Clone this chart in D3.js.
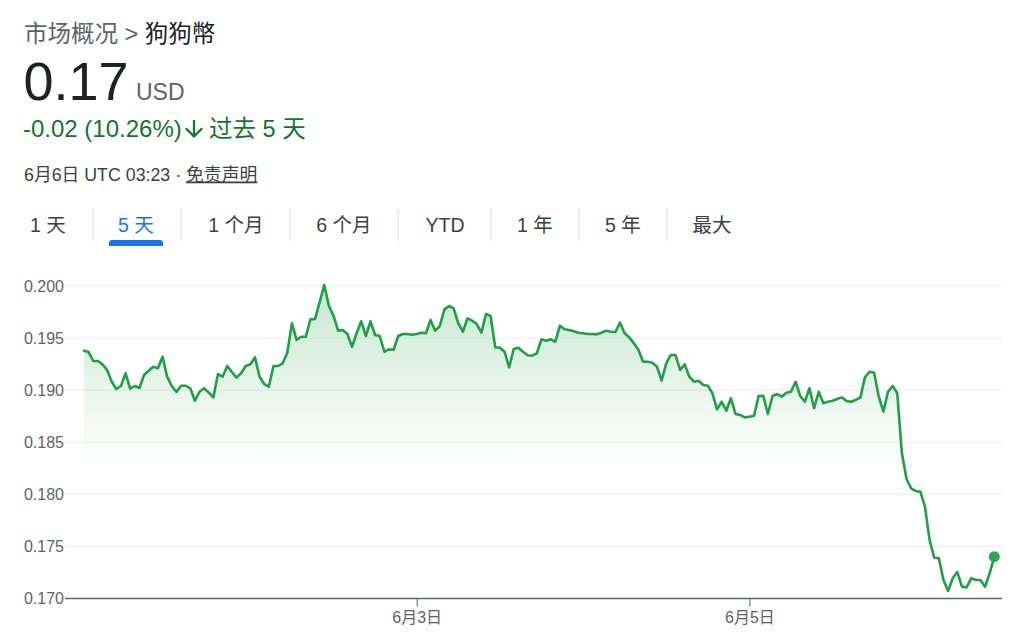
<!DOCTYPE html>
<html><head><meta charset="utf-8">
<script src="https://cdn.jsdelivr.net/npm/d3@7"></script>
<style>
html,body{margin:0;padding:0;background:#fff;}
svg{display:block;font-family:"Liberation Sans",Arial,"Noto Sans CJK SC",sans-serif;}
</style></head><body>
<svg id="c" width="1024" height="644"></svg>
<script>
// ---- data ----
const prices = [
0.19379,0.19366,0.1928,0.1928,0.19248,0.19194,0.19081,0.19011,0.1904,0.19162,
0.19014,0.1904,0.19021,0.19146,0.19187,0.19225,0.1921,0.19321,0.19129,0.1904,
0.18982,0.19043,0.19043,0.19018,0.18899,0.18985,0.19018,0.18976,0.18931,0.19155,
0.19129,0.19232,0.19174,0.1912,0.19162,0.19232,0.19248,0.19315,0.19129,0.19059,
0.19033,0.19232,0.19232,0.19258,0.1936,0.19642,0.19482,0.19513,0.19513,0.1968,
0.19683,0.19846,0.2001,0.19808,0.19712,0.19571,0.19578,0.19539,0.19417,0.19546,
0.19661,0.1952,0.19661,0.1953,0.1952,0.19369,0.19392,0.19388,0.1952,0.19539,
0.19539,0.19532,0.19539,0.19552,0.19546,0.19674,0.19571,0.19616,0.19776,0.19808,
0.19786,0.19642,0.19561,0.1969,0.19667,0.19635,0.19552,0.19731,0.19712,0.19411,
0.19408,0.19369,0.19219,0.19395,0.19408,0.19369,0.19335,0.19331,0.19354,0.19488,
0.19475,0.19488,0.19465,0.19619,0.19584,0.19578,0.19565,0.19552,0.19546,0.19539,
0.19539,0.19536,0.19552,0.19571,0.19561,0.19558,0.19648,0.19546,0.19507,0.1945,
0.19386,0.19273,0.19273,0.19264,0.19225,0.19091,0.19258,0.19338,0.19338,0.19194,
0.19248,0.19129,0.19081,0.19091,0.1905,0.19043,0.1897,0.18816,0.18889,0.18803,
0.18922,0.18771,0.18762,0.18739,0.18745,0.18755,0.18944,0.18947,0.18771,0.18944,
0.18963,0.18937,0.18976,0.18985,0.19081,0.18944,0.18889,0.19018,0.18826,0.18985,
0.18874,0.18889,0.18899,0.18915,0.18931,0.18896,0.18889,0.18906,0.18928,0.19123,
0.19177,0.19168,0.18937,0.18793,0.18985,0.1904,0.1897,0.18397,0.18147,0.18058,
0.18032,0.18025,0.17881,0.17561,0.17392,0.17386,0.17177,0.17072,0.17194,0.17254,
0.17113,0.17107,0.17194,0.17177,0.17177,0.17113,0.17242,0.17401
];
const startTime = Date.UTC(2024, 5, 1, 0, 0);   // first sample
const stepMinutes = 40;                          // sampling interval
const yTicks = [0.170, 0.175, 0.180, 0.185, 0.190, 0.195, 0.200];
const xTickDates = [Date.UTC(2024, 5, 3), Date.UTC(2024, 5, 5)];
const tabLabels = ["1 天", "5 天", "1 个月", "6 个月", "YTD", "1 年", "5 年", "最大"];
const activeTab = 1;
const breadcrumbParent = "市场概况 > ";
const assetName = "狗狗幣";
const priceText = "0.17";
const currency = "USD";
const changeText = "-0.02 (10.26%)";
const periodText = "过去 5 天";
const timeText = "6月6日 UTC 03:23 · ";
const disclaimer = "免责声明";

// ---- drawing ----
const svg = d3.select("#c");
const series = prices.map((v, i) => ({ t: new Date(startTime + i * stepMinutes * 60000), v }));

const x = d3.scaleUtc().domain(d3.extent(series, d => d.t)).range([84, 994.3]);
const y = d3.scaleLinear().domain([0.170, 0.200]).range([598.5, 286]);
const gridLeft = 65, gridRight = 1002;

// header
const head = svg.append("g");
const bc = head.append("text").attr("x", 24).attr("y", 41.5).attr("font-size", 23.5);
bc.append("tspan").attr("fill", "#5f6368").text(breadcrumbParent);
bc.append("tspan").attr("fill", "#202124").text(assetName);

head.append("text").attr("x", 23.5).attr("y", 100).attr("font-size", 54)
  .attr("fill", "#202124").text(priceText);
head.append("text").attr("x", 136).attr("y", 99.5).attr("font-size", 23)
  .attr("fill", "#5f6368").text(currency);

head.append("text").attr("x", 23).attr("y", 136.5).attr("font-size", 24)
  .attr("fill", "#137333").text(changeText);
head.append("path")
  .attr("d", "M20 12l-1.41-1.41L13 16.17V4h-2v12.17l-5.58-5.59L4 12l8 8 8-8z")
  .attr("transform", "translate(180.5,115.5) scale(1.125)")
  .attr("fill", "#137333");
head.append("text").attr("x", 209).attr("y", 136.5).attr("font-size", 23.5)
  .attr("fill", "#137333").text(periodText);

const tt = head.append("text").attr("x", 24).attr("y", 180.5).attr("font-size", 17.8).attr("fill", "#3c4043");
tt.append("tspan").text(timeText);
tt.append("tspan").attr("text-decoration", "underline").text(disclaimer);

// tabs
const tabCenters = [48, 136, 236, 344, 445, 535, 623, 712];
const sepX = [93, 181, 290, 398, 491, 579, 667];
const tabs = svg.append("g");
tabs.selectAll("line").data(sepX).join("line")
  .attr("x1", d => d).attr("x2", d => d).attr("y1", 209).attr("y2", 241)
  .attr("stroke", "#dadce0").attr("stroke-width", 1);
tabs.selectAll("text").data(tabLabels).join("text")
  .attr("x", (d, i) => tabCenters[i]).attr("y", 232)
  .attr("text-anchor", "middle").attr("font-size", 19.5)
  .attr("fill", (d, i) => i === activeTab ? "#1a73e8" : "#3c4043")
  .text(d => d);
tabs.append("path")
  .attr("d", `M${tabCenters[activeTab]-27},246 v-3 a3,3 0 0 1 3,-3 h48 a3,3 0 0 1 3,3 v3 z`)
  .attr("fill", "#1a73e8");

// gridlines
svg.append("g").selectAll("line").data(yTicks.slice(1)).join("line")
  .attr("x1", gridLeft).attr("x2", gridRight)
  .attr("y1", d => y(d)).attr("y2", d => y(d))
  .attr("stroke", "#ededed").attr("stroke-width", 1);

// y axis labels
const ya = svg.append("g").attr("transform", `translate(${gridLeft},0)`)
  .call(d3.axisLeft(y).tickValues(yTicks).tickSize(0).tickPadding(1).tickFormat(d3.format(".3f")));
ya.select(".domain").remove();
ya.selectAll("text").attr("font-size", 16).attr("fill", "#5f6368")
  .attr("font-family", "'Liberation Sans',Arial,sans-serif");

// area gradient
const defs = svg.append("defs");
const grad = defs.append("linearGradient").attr("id", "ag")
  .attr("gradientUnits", "userSpaceOnUse")
  .attr("x1", 0).attr("x2", 0).attr("y1", y(0.200)).attr("y2", y(0.1825));
grad.append("stop").attr("offset", 0).attr("stop-color", "#34a853").attr("stop-opacity", 0.27);
grad.append("stop").attr("offset", 0.5).attr("stop-color", "#34a853").attr("stop-opacity", 0.13);
grad.append("stop").attr("offset", 1).attr("stop-color", "#34a853").attr("stop-opacity", 0);

svg.append("path").datum(series)
  .attr("d", d3.area().x(d => x(d.t)).y0(y(0.170)).y1(d => y(d.v)))
  .attr("fill", "url(#ag)");

// x axis baseline + ticks
svg.append("line").attr("x1", gridLeft).attr("x2", gridRight)
  .attr("y1", y(0.170)).attr("y2", y(0.170))
  .attr("stroke", "#5f6368").attr("stroke-width", 1.5);
const xa = svg.append("g").attr("transform", `translate(0,${y(0.170)})`)
  .call(d3.axisBottom(x).tickValues(xTickDates.map(d => new Date(d))).tickSize(8).tickPadding(5)
    .tickFormat(d => `${d.getUTCMonth() + 1}月${d.getUTCDate()}日`));
xa.select(".domain").remove();
xa.selectAll("line").attr("stroke", "#5f6368");
xa.selectAll("text").attr("font-size", 16).attr("fill", "#5f6368")
  .attr("font-family", "'Liberation Sans',Arial,'Noto Sans CJK SC',sans-serif");

// line
svg.append("path").datum(series)
  .attr("d", d3.line().x(d => x(d.t)).y(d => y(d.v)))
  .attr("fill", "none").attr("stroke", "#1fa046").attr("stroke-width", 2.6)
  .attr("stroke-linejoin", "round").attr("stroke-linecap", "round");

// end dot
const last = series[series.length - 1];
svg.append("circle").attr("cx", x(last.t)).attr("cy", y(last.v)).attr("r", 5.5)
  .attr("fill", "#2ea552");
</script>
</body></html>
